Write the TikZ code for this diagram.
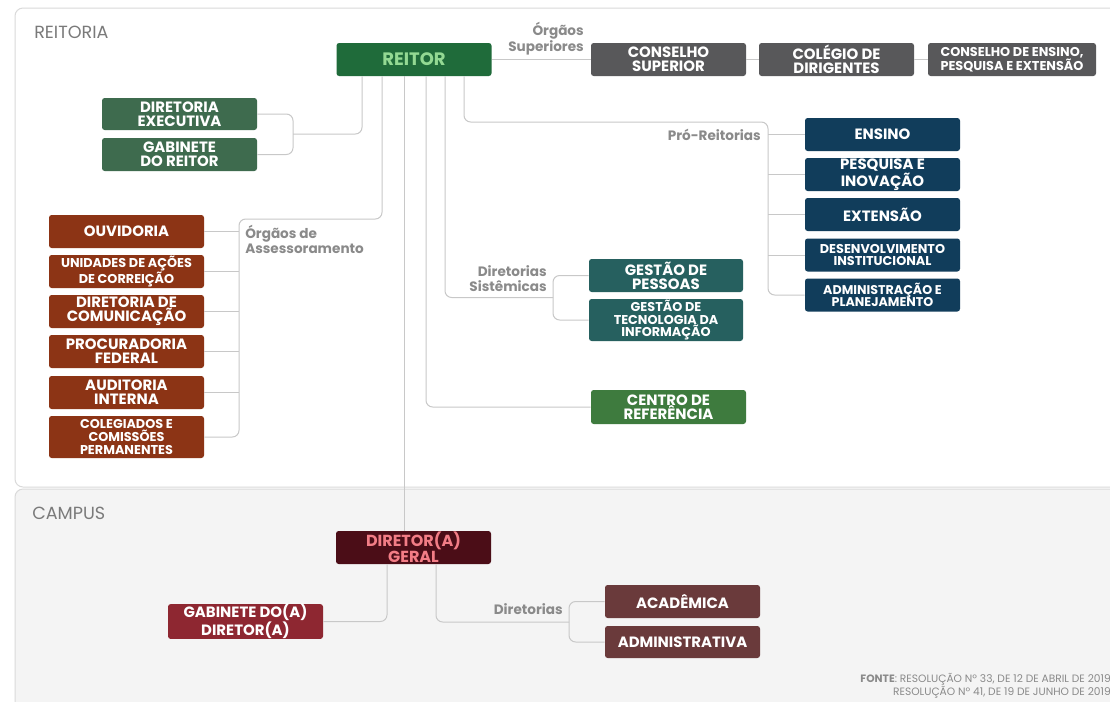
\documentclass[tikz,border=0pt]{standalone}
\usepackage{fontspec}
\setmainfont{Poppins}
\usetikzlibrary{calc}
\definecolor{reitorgreen}{HTML}{1F6B3A}
\definecolor{reitortext}{HTML}{93D993}
\definecolor{dkgreen}{HTML}{3E6B4E}
\definecolor{graybox}{HTML}{58585A}
\definecolor{rust}{HTML}{8C3415}
\definecolor{navy}{HTML}{113D5B}
\definecolor{teal}{HTML}{26605F}
\definecolor{midgreen}{HTML}{3E7B3E}
\definecolor{maroon}{HTML}{4B0D17}
\definecolor{pinktext}{HTML}{F27D86}
\definecolor{crimson}{HTML}{8E2731}
\definecolor{brownbox}{HTML}{6A3A3B}
\definecolor{linegray}{HTML}{C8C8C8}
\definecolor{panelborder}{HTML}{DADADA}
\definecolor{campusbg}{HTML}{F4F4F4}
\definecolor{labgray}{HTML}{8A8A8A}
\definecolor{secgray}{HTML}{7A7A7A}
\tikzset{
  orgbox/.style={rounded corners=2pt, minimum width=116.25pt, minimum height=24.75pt,
    inner sep=0pt, align=center, text=white, font=\bfseries\fontsize{11.2}{10.6}\selectfont},
  fsm/.style={font=\bfseries\fontsize{9.6}{9.4}\selectfont},
  conn/.style={draw=linegray, line width=0.75pt, rounded corners=5pt},
  lab/.style={text=labgray, inner sep=0pt, font=\bfseries\fontsize{10.2}{10.8}\selectfont},
  seclab/.style={text=secgray, inner sep=0pt, anchor=west, font=\fontsize{13.2}{14}\selectfont}
}
\begin{document}
\begin{tikzpicture}[x=0.75pt,y=-0.75pt]
\clip (0,0) rectangle (1110,701);
\fill[white] (0,0) rectangle (1110,701);
% panels
\draw[panelborder, fill=white, rounded corners=6pt, line width=0.75pt] (15,8) rectangle (1140,487);
\draw[panelborder, fill=campusbg, rounded corners=6pt, line width=0.75pt] (15,489) rectangle (1140,730);
\node[seclab] (lreitoria) at (34,32) {REITORIA};
\node[seclab] (lcampus) at (32,513) {CAMPUS};

% boxes
\node[orgbox, fill=reitorgreen, text=reitortext, font=\bfseries\fontsize{13.5}{13}\selectfont] (reitor) at (414,59.5) {REITOR};
\node[orgbox, fill=graybox] (cs) at (668.5,59.5) {CONSELHO\\SUPERIOR};
\node[orgbox, fill=graybox] (cd) at (836.5,59.5) {COLÉGIO DE\\DIRIGENTES};
\node[orgbox, fill=graybox, minimum width=126pt, fsm] (cepe) at (1012,59.5) {CONSELHO DE ENSINO,\\PESQUISA E EXTENSÃO};

\node[orgbox, fill=dkgreen, minimum height=24pt] (de) at (179.5,114) {DIRETORIA\\EXECUTIVA};
\node[orgbox, fill=dkgreen] (gr) at (179.5,154.5) {GABINETE\\DO REITOR};

\node[orgbox, fill=rust] (ouv) at (126.5,231.5) {OUVIDORIA};
\node[orgbox, fill=rust, fsm] (uac) at (126.5,271.5) {UNIDADES DE AÇÕES\\DE CORREIÇÃO};
\node[orgbox, fill=rust] (dc) at (126.5,311.5) {DIRETORIA DE\\COMUNICAÇÃO};
\node[orgbox, fill=rust] (pf) at (126.5,351.5) {PROCURADORIA\\FEDERAL};
\node[orgbox, fill=rust] (ai) at (126.5,392.5) {AUDITORIA\\INTERNA};
\node[orgbox, fill=rust, fsm, minimum height=31.5pt] (col) at (126.5,437) {COLEGIADOS E\\COMISSÕES\\PERMANENTES};

\node[orgbox, fill=navy] (ens) at (882.5,134.5) {ENSINO};
\node[orgbox, fill=navy] (pi) at (882.5,174.5) {PESQUISA E\\INOVAÇÃO};
\node[orgbox, fill=navy] (ext) at (882.5,214.5) {EXTENSÃO};
\node[orgbox, fill=navy, fsm] (di) at (882.5,255) {DESENVOLVIMENTO\\INSTITUCIONAL};
\node[orgbox, fill=navy, font=\bfseries\fontsize{9.5}{9.4}\selectfont] (ap) at (882.5,295) {ADMINISTRAÇÃO E\\PLANEJAMENTO};

\node[orgbox, fill=teal, minimum width=115.5pt] (gp) at (666,275.5) {GESTÃO DE\\PESSOAS};
\node[orgbox, fill=teal, minimum width=115.5pt, minimum height=31.5pt, fsm] (gti) at (666,320) {GESTÃO DE\\TECNOLOGIA DA\\INFORMAÇÃO};

\node[orgbox, fill=midgreen, minimum height=25.5pt] (cr) at (668.5,407) {CENTRO DE\\REFERÊNCIA};

\node[orgbox, fill=maroon, text=pinktext, font=\bfseries\fontsize{12}{10.4}\selectfont] (dg) at (413.5,547.5) {DIRETOR(A)\\GERAL};
\node[orgbox, fill=crimson, font=\bfseries\fontsize{11.2}{10.4}\selectfont] (gab) at (245.5,621.5) {GABINETE DO(A)\\DIRETOR(A)};
\node[orgbox, fill=brownbox] (aca) at (682.5,601.5) {ACADÊMICA};
\node[orgbox, fill=brownbox, minimum height=24pt] (adm) at (682.5,642) {ADMINISTRATIVA};

% junction coordinates
\coordinate (xa) at (362,0);
\coordinate (xb) at (382,0);
\coordinate (xc) at (404,0);
\coordinate (xd) at (426,0);
\coordinate (xe) at (445,0);
\coordinate (xf) at (464,0);
\coordinate (bde) at (293,134);
\coordinate (bas) at (239,219);
\coordinate (bds) at (553,297.5);
\coordinate (bpr) at (768,122);
\coordinate (xg) at (387,0);
\coordinate (xh) at (436,0);
\coordinate (bdi) at (569,622);

% connectors: orgaos superiores
\draw[conn] (reitor.east) -- (cs.west);
\draw[conn] (cs.east) -- (cd.west);
\draw[conn] (cd.east) -- (cepe.west);
% diretoria executiva / gabinete
\draw[conn] (de.east) -- (de.east -| bde) -- (gr.east -| bde) -- (gr.east);
\draw[conn] (reitor.south -| xa) |- (bde);
% assessoramento
\draw[conn] (reitor.south -| xb) |- (bas) -- (col.east -| bas) -- (col.east);
\foreach \n in {ouv,uac,dc,pf,ai} \draw[conn] (\n.east) -- (\n.east -| bas);
% diretor geral
\draw[conn] (reitor.south -| xc) -- (dg.north -| xc);
% centro de referencia
\draw[conn] (reitor.south -| xd) |- (cr.west);
% diretorias sistemicas
\draw[conn] (reitor.south -| xe) |- (bds);
\draw[conn] (gp.west) -- (gp.west -| bds) -- (gti.west -| bds) -- (gti.west);
% pro-reitorias
\draw[conn] (reitor.south -| xf) |- (bpr) -- (ap.west -| bpr) -- (ap.west);
\foreach \n in {ens,pi,ext,di} \draw[conn] (\n.west -| bpr) -- (\n.west);
% campus
\draw[conn] (dg.south -| xg) |- (gab.east);
\draw[conn] (dg.south -| xh) |- (bdi);
\draw[conn] (aca.west) -- (aca.west -| bdi) -- (adm.west -| bdi) -- (adm.west);

% labels
\node[lab, align=right, anchor=east] (lsup) at (584,39) {Órgãos\\Superiores};
\node[lab, anchor=east] (lpro) at (761,135) {Pró-Reitorias};
\node[lab, align=left, anchor=west] (lass) at (245,239.5) {Órgãos de\\Assessoramento};
\node[lab, align=right, anchor=east] (lds) at (547,278.5) {Diretorias\\Sistêmicas};
\node[lab, anchor=east] (ldir) at (563,609.5) {Diretorias};
\node[text=labgray, inner sep=0pt, align=right, anchor=east, font=\fontsize{8}{7.5}\selectfont] (fonte) at (1111,685.5)
  {\textbf{FONTE}: RESOLUÇÃO Nº 33, DE 12 DE ABRIL DE 2019\\RESOLUÇÃO Nº 41, DE 19 DE JUNHO DE 2019};
\end{tikzpicture}
\end{document}
